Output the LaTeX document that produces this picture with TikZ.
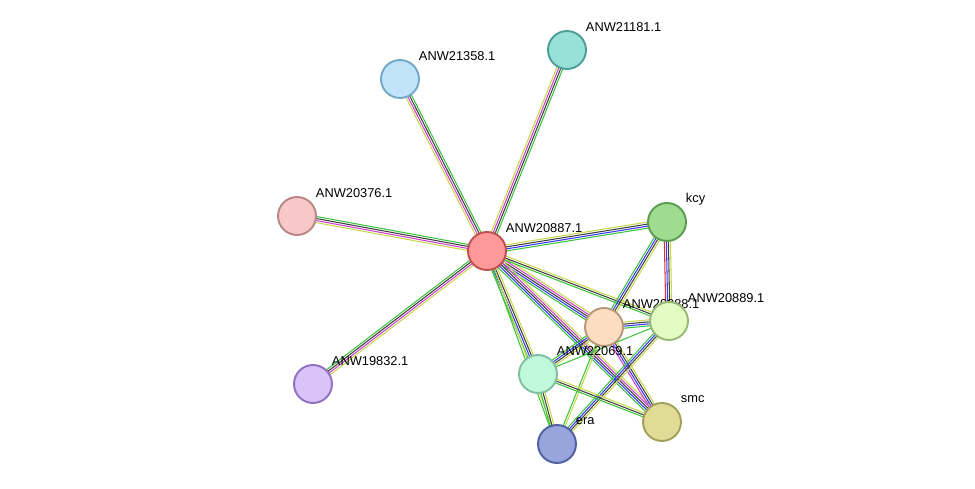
\documentclass[tikz,border=0pt]{standalone}
\usepackage{fontspec}
\setmainfont{Liberation Sans}
\usetikzlibrary{calc,backgrounds}
\definecolor{tm}{HTML}{3CC43C}
\definecolor{co}{HTML}{C8D84C}
\definecolor{ex}{HTML}{404040}
\definecolor{db}{HTML}{3838FF}
\definecolor{hm}{HTML}{D040D0}
\definecolor{gn}{HTML}{E03030}
\tikzset{
  prot/.style={circle, draw, line width=1.1pt, minimum size=0.76cm, inner sep=0pt},
  lbl/.style={anchor=west, xshift=0.09cm, yshift=0.17cm, inner sep=0pt, font=\fontsize{7.3}{8}\selectfont}
}
% #1,#2 nodes, #3 number of lines, #4 colours
\newcommand{\link}[4]{
  \foreach \c [count=\i] in {#4} {
    \pgfmathsetmacro\off{(\i-(#3+1)/2)*1.15}
    \draw[\c, line width=0.6pt] ($(#1)!\off pt!90:(#2)$) -- ($(#2)!\off pt!-90:(#1)$);
  }
}
\begin{document}
\begin{tikzpicture}[x=0.02cm, y=-0.02cm]
\useasboundingbox (0,0) rectangle (975,489);

\node (p887) [prot, fill={rgb,255:red,255;green,153;blue,153}, draw={rgb,255:red,192;green,80;blue,80}, label={[lbl]north east:ANW20887.1}] at (487,251) {};
\node (p181) [prot, fill={rgb,255:red,153;green,224;blue,216}, draw={rgb,255:red,78;green,158;blue,152}, label={[lbl]north east:ANW21181.1}] at (567,50) {};
\node (p358) [prot, fill={rgb,255:red,192;green,228;blue,250}, draw={rgb,255:red,116;green,168;blue,200}, label={[lbl]north east:ANW21358.1}] at (400,79) {};
\node (p376) [prot, fill={rgb,255:red,248;green,200;blue,200}, draw={rgb,255:red,184;green,136;blue,136}, label={[lbl]north east:ANW20376.1}] at (297,216) {};
\node (p832) [prot, fill={rgb,255:red,216;green,196;blue,248}, draw={rgb,255:red,144;green,112;blue,192}, label={[lbl]north east:ANW19832.1}] at (313,384) {};
\node (kcy) [prot, fill={rgb,255:red,160;green,220;blue,144}, draw={rgb,255:red,92;green,156;blue,80}, label={[lbl]north east:kcy}] at (667,222) {};
\node (p888) [prot, fill={rgb,255:red,253;green,221;blue,192}, draw={rgb,255:red,184;green,152;blue,120}, label={[lbl]north east:ANW20888.1}] at (604,327) {};
\node (p889) [prot, fill={rgb,255:red,226;green,252;blue,194}, draw={rgb,255:red,152;green,184;blue,120}, label={[lbl]north east:ANW20889.1}] at (669,321) {};
\node (p069) [prot, fill={rgb,255:red,192;green,248;blue,220}, draw={rgb,255:red,128;green,192;blue,160}, label={[lbl]north east:ANW22069.1}] at (538,374) {};
\node (era) [prot, fill={rgb,255:red,152;green,164;blue,220}, draw={rgb,255:red,80;green,96;blue,160}, label={[lbl]north east:era}] at (557,444) {};
\node (smc) [prot, fill={rgb,255:red,224;green,220;blue,152}, draw={rgb,255:red,160;green,160;blue,88}, label={[lbl]north east:smc}] at (662,422) {};

\begin{scope}[on background layer]
  \link{p887}{p181}{4}{tm,ex,hm,co}
  \link{p887}{p358}{4}{tm,ex,hm,co}
  \link{p887}{p376}{4}{tm,ex,hm,co}
  \link{p887}{p832}{4}{tm,ex,hm,co}
  \link{p887}{kcy}{4}{tm,db,ex,co}
  \link{p887}{p888}{5}{tm,db,ex,hm,co}
  \link{p887}{p889}{3}{tm,ex,co}
  \link{p887}{p069}{4}{tm,db,ex,co}
  \link{p887}{era}{2}{tm,co}
  \link{p887}{smc}{5}{tm,db,ex,hm,co}
  \link{kcy}{p889}{4}{gn,db,ex,co}
  \link{kcy}{p888}{4}{tm,db,ex,co}
  \link{p888}{p889}{4}{tm,db,ex,co}
  \link{p888}{p069}{4}{tm,db,ex,co}
  \link{p888}{smc}{4}{hm,db,ex,co}
  \link{p888}{era}{2}{tm,co}
  \link{p889}{era}{4}{tm,db,ex,co}
  \link{p889}{p069}{1}{tm}
  \link{p069}{smc}{3}{tm,ex,co}
  \link{p069}{era}{3}{tm,ex,co}
\end{scope}
\end{tikzpicture}
\end{document}
